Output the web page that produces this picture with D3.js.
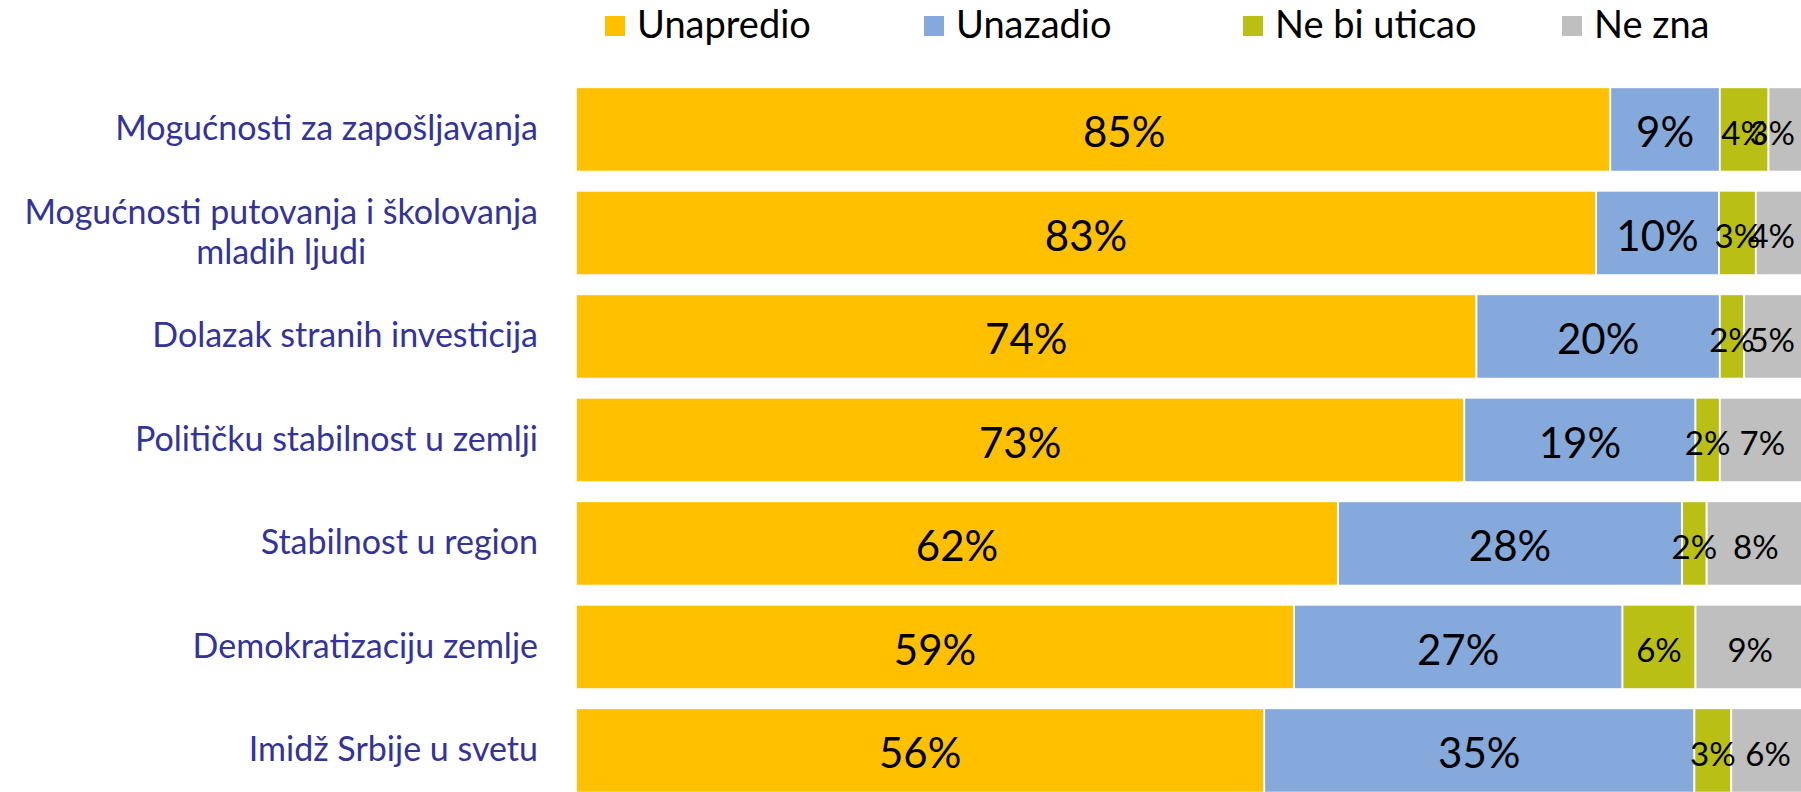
<!DOCTYPE html>
<html>
<head>
<meta charset="utf-8">
<script src="https://cdn.jsdelivr.net/npm/d3@7"></script>
<style>
  html, body { margin: 0; padding: 0; background: #fff; overflow: hidden; }
  svg { display: block; font-family: Lato, "Liberation Sans", sans-serif; }
</style>
</head>
<body>
<svg id="chart" width="1801" height="792"></svg>
<script>
// Survey answers per area (percent of respondents)
const categories = [
  "Mogućnosti za zapošljavanja",
  "Mogućnosti putovanja i školovanja mladih ljudi",
  "Dolazak stranih investicija",
  "Političku stabilnost u zemlji",
  "Stabilnost u region",
  "Demokratizaciju zemlje",
  "Imidž Srbije u svetu"
];
const seriesNames = ["Unapredio", "Unazadio", "Ne bi uticao", "Ne zna"];
const unapredio  = [85, 83, 74, 73, 62, 59, 56];
const unazadio   = [9, 10, 20, 19, 28, 27, 35];
const neBiUticao = [4, 3, 2, 2, 2, 6, 3];
const neZna      = [3, 4, 5, 7, 8, 9, 6];

const colors = ["#FFC000", "#85A9DB", "#B9BF15", "#BFBFBF"];
const labelSizes = [42, 42, 33, 33];

const seriesValues = [unapredio, unazadio, neBiUticao, neZna];
const rows = categories.map((c, i) => {
  const r = { category: c };
  seriesNames.forEach((s, k) => { r[s] = seriesValues[k][i]; });
  return r;
});

const svg = d3.select("#chart");
const W = 1801, H = 792;
svg.append("rect").attr("width", W).attr("height", H).attr("fill", "#fff");

// 100% stacked layout
const stack = d3.stack().keys(seriesNames).offset(d3.stackOffsetExpand);
const layers = stack(rows);

const plotLeft = 576, plotRight = 1805;
const x = d3.scaleLinear().domain([0, 1]).range([plotLeft, plotRight]);
const y = d3.scaleBand()
  .domain(categories)
  .range([77.7, 802.2])
  .paddingInner(0.185)
  .paddingOuter(0.0925);

// Bars
const layerG = svg.append("g").selectAll("g")
  .data(layers)
  .join("g")
  .attr("fill", (d, i) => colors[i]);

layerG.selectAll("rect")
  .data(d => d)
  .join("rect")
  .attr("x", d => x(d[0]))
  .attr("y", d => y(d.data.category))
  .attr("width", d => x(d[1]) - x(d[0]))
  .attr("height", y.bandwidth())
  .attr("stroke", "#fff")
  .attr("stroke-width", 1.8);

// Value labels, kept inside the right edge of the plot;
// the first label of the top bar sits a little right of centre.
const labelRightLimit = 1795;
const labelShift = (seriesIdx, rowIdx) => (seriesIdx === 0 && rowIdx === 0 ? 31 : 0);
const labelG = svg.append("g");
layers.forEach((layer, i) => {
  const big = labelSizes[i] > 38;
  layer.forEach((d, r) => {
    const v = d.data[layer.key];
    const cx = (x(d[0]) + x(d[1])) / 2 + labelShift(i, r);
    const cy = y(d.data.category) + y.bandwidth() / 2;
    const t = labelG.append("text")
      .attr("font-size", labelSizes[i])
      .attr("fill", "#000")
      .attr("text-anchor", "middle")
      .attr("x", cx)
      .attr("y", cy + (big ? 18 : 15.5))
      .text(v + "%");
    const w = t.node().getComputedTextLength();
    if (cx + w / 2 > labelRightLimit) {
      t.attr("text-anchor", "end").attr("x", labelRightLimit);
    }
  });
});

// Category axis
const axisPad = 38;
const yAxis = svg.append("g")
  .attr("transform", `translate(${plotLeft},0)`)
  .call(d3.axisLeft(y).tickSize(0).tickPadding(axisPad));
yAxis.select(".domain").remove();
yAxis.selectAll("text")
  .attr("font-family", "Lato, 'Liberation Sans', sans-serif")
  .attr("font-size", 34)
  .attr("fill", "#333399")
  .each(function (d) {
    const text = d3.select(this);
    const maxWidth = 575;
    const words = d.split(/\s+/);
    const lines = [];
    let line = [];
    text.text(null).attr("dy", null);
    const probe = text.append("tspan");
    words.forEach(wd => {
      line.push(wd);
      probe.text(line.join(" "));
      if (probe.node().getComputedTextLength() > maxWidth && line.length > 1) {
        line.pop();
        lines.push(line.join(" "));
        line = [wd];
      }
    });
    lines.push(line.join(" "));
    probe.remove();

    const lh = 40;
    const n = lines.length;
    const base0 = 11 - (n - 1) * lh / 2;
    const spans = lines.map((ln, k) => text.append("tspan").attr("y", base0 + k * lh).text(ln));
    if (n > 1) {
      const widest = d3.max(spans, s => s.node().getComputedTextLength());
      text.attr("text-anchor", "middle");
      spans.forEach(s => s.attr("x", -axisPad - widest / 2));
    } else {
      text.attr("text-anchor", "end");
      spans.forEach(s => s.attr("x", -axisPad));
    }
  });

// Legend
const legendX0 = 605, legendStep = 319;
const legend = svg.append("g").selectAll("g")
  .data(seriesNames)
  .join("g")
  .attr("transform", (d, i) => `translate(${legendX0 + i * legendStep},0)`);
legend.append("rect")
  .attr("x", 0).attr("y", 16)
  .attr("width", 20).attr("height", 20)
  .attr("fill", (d, i) => colors[i]);
legend.append("text")
  .attr("x", 32).attr("y", 38)
  .attr("font-size", 38)
  .attr("fill", "#000")
  .text(d => d);
</script>
</body>
</html>
